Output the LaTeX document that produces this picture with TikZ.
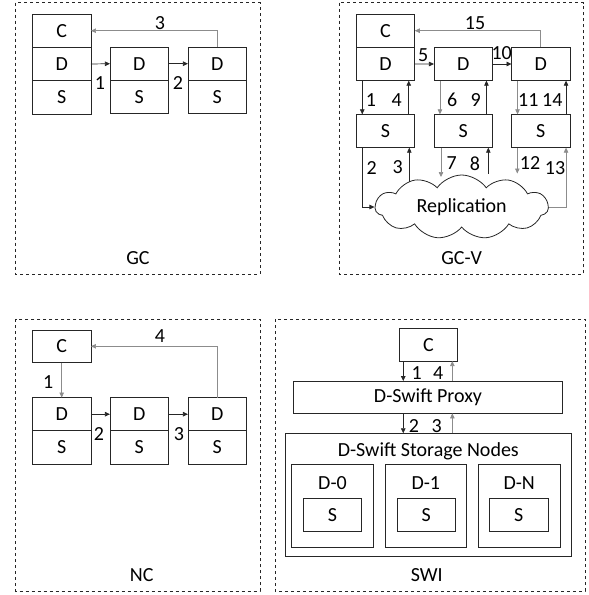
\documentclass[tikz,border=0pt]{standalone}
\usepackage{fontspec}
\setmainfont{Carlito}
\usetikzlibrary{positioning,shapes.symbols,arrows.meta}

\tikzset{
  cell/.style={draw=black!85, line width=0.8pt, minimum width=58.5pt,
    minimum height=33.3pt, inner sep=0pt, outer sep=0pt},
  panel/.style={draw=black!85, dashed, line width=0.8pt},
  darrow/.style={draw=black!85, line width=0.7pt, -{Triangle[length=5pt,width=4.5pt]}},
  garrow/.style={darrow, draw=black!45},
  num/.style={inner sep=0pt},
}

\begin{document}
\begin{tikzpicture}[x=1pt, y=-1pt, font=\fontsize{20}{24}\selectfont, node distance=0pt]
  \useasboundingbox (0,0) rectangle (589,595);

  % panels
  \draw[panel] (15.7,2.7) rectangle (260,274);
  \draw[panel] (339.3,2.7) rectangle (583.3,274);
  \draw[panel] (15.7,319) rectangle (260,591);
  \draw[panel] (275,319) rectangle (585,591);

  % GC
  \node[cell] (gcC) at (61.7,30.7) {C};
  \node[cell, below=of gcC] (gcD1) {D};
  \node[cell, below=of gcD1] (gcS1) {S};
  \node[cell] (gcD2) at (139.2,63.7) {D};
  \node[cell, below=of gcD2] (gcS2) {S};
  \node[cell] (gcD3) at (217.2,63.7) {D};
  \node[cell, below=of gcD3] (gcS3) {S};
  \draw[darrow] (gcD1.east) -- (gcD2.west);
  \draw[darrow] (gcD2.east) -- (gcD3.west);
  \draw[garrow] (gcD3.north) |- (gcC.east);
  \node[num] (gcL1) at (100,83) {1};
  \node[num] (gcL2) at (178,83) {2};
  \node[num] (gcL3) at (160,23) {3};
  \node (gcName) at (138,258) {GC};

  % GC-V
  \node[cell] (gvC) at (385.5,30.7) {C};
  \node[cell, below=of gvC] (gvD1) {D};
  \node[cell] (gvD2) at (463.2,64) {D};
  \node[cell] (gvD3) at (540.8,64) {D};
  \node[cell] (gvS1) at (385.5,131) {S};
  \node[cell] (gvS2) at (463.2,131) {S};
  \node[cell] (gvS3) at (540.8,131) {S};
  \node[cloud, draw=black!85, line width=0.8pt, cloud puffs=11, cloud puff arc=110,
    aspect=2.7, minimum width=173pt, minimum height=64pt, inner sep=0pt]
    (gvCloud) at (461.7,207) {Replication};
  \coordinate (gvR3) at (409.3,182);
  \coordinate (gvR7) at (441,177);
  \coordinate (gvR8) at (488.3,173.5);
  \coordinate (gvR12) at (517.3,173.5);
  \draw[darrow] (gvD1.east) -- (gvD2.west);
  \draw[darrow] (gvD2.east) -- (gvD3.west);
  \draw[garrow] (gvD3.north) |- (gvC.east);
  \draw[darrow] ([xshift=6pt]gvD1.south west) -- ([xshift=6pt]gvS1.north west);
  \draw[darrow] ([xshift=-6pt]gvS1.north east) -- ([xshift=-6pt]gvD1.south east);
  \draw[garrow] ([xshift=6pt]gvD2.south west) -- ([xshift=6pt]gvS2.north west);
  \draw[darrow] ([xshift=-6pt]gvS2.north east) -- ([xshift=-6pt]gvD2.south east);
  \draw[garrow] ([xshift=6pt]gvD3.south west) -- ([xshift=6pt]gvS3.north west);
  \draw[darrow] ([xshift=-4pt]gvS3.north east) -- ([xshift=-4pt]gvD3.south east);
  \draw[darrow] ([xshift=6pt]gvS1.south west) |- (gvCloud.west);
  \draw[darrow] (gvR3) -- (gvR3 |- gvS1.south);
  \draw[garrow] (gvR7 |- gvS2.south) -- (gvR7);
  \draw[darrow] (gvR8) -- (gvR8 |- gvS2.south);
  \draw[garrow] (gvR12 |- gvS3.south) -- (gvR12);
  \draw[garrow] (gvCloud.east) -| ([xshift=-4pt]gvS3.south east);
  \node[num] (gvL1) at (371,100) {1};
  \node[num] (gvL4) at (396.7,100) {4};
  \node[num] (gvL6) at (452.3,100) {6};
  \node[num] (gvL9) at (475.7,100) {9};
  \node[num] (gvL11) at (528.3,100) {11};
  \node[num] (gvL14) at (552.3,100) {14};
  \node[num] (gvL2) at (371.7,167.7) {2};
  \node[num] (gvL3) at (397.7,167) {3};
  \node[num] (gvL7) at (451.7,163.3) {7};
  \node[num] (gvL8) at (475,163.3) {8};
  \node[num] (gvL12) at (530,163.3) {12};
  \node[num] (gvL13) at (555,167.7) {13};
  \node[num] (gvL5) at (423.3,55) {5};
  \node[num] (gvL10) at (501.7,53.3) {10};
  \node[num] (gvL15) at (475,22.7) {15};
  \node (gvName) at (461.7,258.3) {GC-V};

  % NC
  \node[cell, minimum height=32.7pt] (ncC) at (61.7,346.3) {C};
  \node[cell] (ncD1) at (61.7,414.2) {D};
  \node[cell, below=of ncD1] (ncS1) {S};
  \node[cell] (ncD2) at (139.2,414.2) {D};
  \node[cell, below=of ncD2] (ncS2) {S};
  \node[cell] (ncD3) at (217.2,414.2) {D};
  \node[cell, below=of ncD3] (ncS3) {S};
  \draw[garrow] (ncC.south) -- (ncD1.north);
  \draw[darrow] (ncD1.east) -- (ncD2.west);
  \draw[darrow] (ncD2.east) -- (ncD3.west);
  \draw[garrow] (ncD3.north) |- (ncC.east);
  \node[num] (ncL1) at (48.3,381.7) {1};
  \node[num] (ncL2) at (99,434.3) {2};
  \node[num] (ncL3) at (179,434.3) {3};
  \node[num] (ncL4) at (160,336) {4};
  \node (ncName) at (141.7,575) {NC};

  % SWI
  \node[cell, minimum height=32.7pt] (swC) at (428.5,344.7) {C};
  \node[cell, minimum width=269.4pt, minimum height=32.3pt] (swProxy) at (428,397.2) {D-Swift Proxy};
  \node[cell, minimum width=286pt, minimum height=123.4pt] (swStore) at (428.7,495) {};
  \node[num] (swStoreName) at (428.3,451.7) {D-Swift Storage Nodes};
  \node[cell, minimum width=81.6pt, minimum height=83.4pt] (swD0) at (332.5,506) {};
  \node[cell, minimum width=81.6pt, minimum height=83.4pt] (swD1) at (425.8,506) {};
  \node[cell, minimum width=81.6pt, minimum height=83.4pt] (swDN) at (519.2,506) {};
  \node[num] (swD0Name) at (332.5,482.7) {D-0};
  \node[num] (swD1Name) at (425.8,482.7) {D-1};
  \node[num] (swDNName) at (519.2,482.7) {D-N};
  \node[cell, minimum height=32.7pt] (swS0) at (332.5,514.7) {S};
  \node[cell, minimum height=32.7pt] (swS1) at (426.2,514.7) {S};
  \node[cell, minimum height=32.7pt] (swSN) at (518.7,514.7) {S};
  \path ([xshift=4pt]swC.south west) coordinate (swT1)
        ([xshift=-5.4pt]swC.south east) coordinate (swT4);
  \draw[darrow] (swT1) -- (swT1 |- swProxy.north);
  \draw[garrow] (swT4 |- swProxy.north) -- (swT4);
  \draw[darrow] (swT1 |- swProxy.south) -- (swT1 |- swStore.north);
  \draw[garrow] (swT4 |- swStore.north) -- (swT4 |- swProxy.south);
  \node[num] (swL1) at (416.7,372.7) {1};
  \node[num] (swL4) at (438.3,372.7) {4};
  \node[num] (swL2) at (414,426) {2};
  \node[num] (swL3) at (436.7,426) {3};
  \node (swName) at (426.7,575) {SWI};
\end{tikzpicture}
\end{document}
